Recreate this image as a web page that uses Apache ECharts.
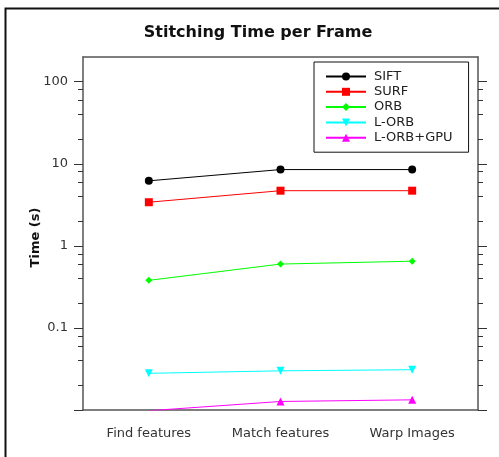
<!DOCTYPE html>
<html><head><meta charset="utf-8">
<script src="https://cdn.jsdelivr.net/npm/echarts@6/dist/echarts.min.js"></script>
<style>html,body{margin:0;padding:0;background:#fff}#c{width:499px;height:457px}</style>
</head><body><div id="c"></div>
<script>
const categories = ['Find features', 'Match features', 'Warp Images'];
const sift = [6.2, 8.5, 8.5];
const surf = [3.4, 4.7, 4.7];
const orb = [0.38, 0.6, 0.65];
const lorb = [0.028, 0.030, 0.031];
const lorbGpu = [0.0098, 0.0127, 0.0133];
const majorTicks = [0.01, 0.1, 1, 10, 100];
const majorLabels = [0.1, 1, 10, 100];
const minorTicks = [0.02,0.04,0.06,0.08,0.2,0.4,0.6,0.8,2,4,6,8,20,40,60,80];

const FONT = 'DejaVu Sans';
const AX = '#555';
const chart = echarts.init(document.getElementById('c'), null, {renderer: 'canvas'});

function yAx(pos, ticks, len, labels, showLine, extra) {
  return Object.assign({
    type: 'log', logBase: 10, min: 0.01, max: 200, position: pos,
    axisLine: {show: showLine, lineStyle: {color: AX, width: 1.5}},
    axisTick: {show: true, customValues: ticks, length: len, lineStyle: {color: '#333', width: 1}},
    axisLabel: labels ? {customValues: labels, color: '#333', fontFamily: FONT, fontSize: 13, margin: 15,
      formatter: v => String(v)} : {show: false},
    splitLine: {show: false}, minorTick: {show: false}
  }, extra || {});
}

const option = {
  backgroundColor: '#fff',
  animation: false,
  title: {
    text: 'Stitching Time per Frame', left: 253, textAlign: 'center', top: 20,
    textStyle: {fontFamily: FONT, fontSize: 16, fontWeight: 'bold', color: '#111'}
  },
  graphic: [{type: 'rect', shape: {x: 5.5, y: 8.5, width: 600, height: 600}, style: {fill: 'none', stroke: '#111', lineWidth: 2}, silent: true}],
  legend: {
    orient: 'vertical', left: 314, top: 62,
    borderColor: '#111', borderWidth: 1, padding: [8, 16, 8, 11],
    itemWidth: 40, itemHeight: 10, itemGap: 2.3,
    textStyle: {fontFamily: FONT, fontSize: 13, color: '#222', padding: [0, 0, 0, 3]},
    data: ['SIFT', 'SURF', 'ORB', 'L-ORB', 'L-ORB+GPU']
  },
  grid: {left: 83, right: 21, top: 57, bottom: 47},
  xAxis: [
    {type: 'category', data: categories, boundaryGap: true, position: 'bottom',
     axisLine: {lineStyle: {color: AX, width: 1.5}},
     axisTick: {alignWithLabel: true, length: 9, lineStyle: {color: '#333'}},
     axisLabel: {color: '#333', fontFamily: FONT, fontSize: 13, margin: 17}},
    {type: 'category', data: categories, boundaryGap: true, position: 'top',
     axisLine: {lineStyle: {color: AX, width: 1.5}},
     axisTick: {alignWithLabel: true, length: 9, lineStyle: {color: '#333'}},
     axisLabel: {show: false}}
  ],
  yAxis: [
    yAx('left', majorTicks, 9, majorLabels, true, {
      name: 'Time (s)', nameLocation: 'middle', nameGap: 41, nameMoveOverlap: false,
      nameTextStyle: {fontFamily: FONT, fontSize: 13, fontWeight: 'bold', color: '#111', padding: [0, 8, 0, 0]}
    }),
    yAx('left', minorTicks, 5, null, false),
    yAx('right', majorTicks, 9, null, true),
    yAx('right', minorTicks, 5, null, false)
  ],
  series: [
    {name: 'SIFT', type: 'line', data: sift, symbol: 'circle', symbolSize: 8,
     itemStyle: {color: '#000'}, lineStyle: {color: '#000', width: 1}},
    {name: 'SURF', type: 'line', data: surf, symbol: 'rect', symbolSize: 8,
     itemStyle: {color: '#ff0000'}, lineStyle: {color: '#ff0000', width: 1}},
    {name: 'ORB', type: 'line', data: orb, symbol: 'diamond', symbolSize: 7,
     itemStyle: {color: '#00ff00'}, lineStyle: {color: '#00ff00', width: 1}},
    {name: 'L-ORB', type: 'line', data: lorb, symbol: 'triangle', symbolRotate: 180, symbolSize: 8,
     itemStyle: {color: '#00ffff'}, lineStyle: {color: '#00ffff', width: 1}},
    {name: 'L-ORB+GPU', type: 'line', data: lorbGpu, symbol: 'triangle', symbolSize: 8,
     itemStyle: {color: '#ff00ff'}, lineStyle: {color: '#ff00ff', width: 1}}
  ]
};
chart.setOption(option);
</script></body></html>
